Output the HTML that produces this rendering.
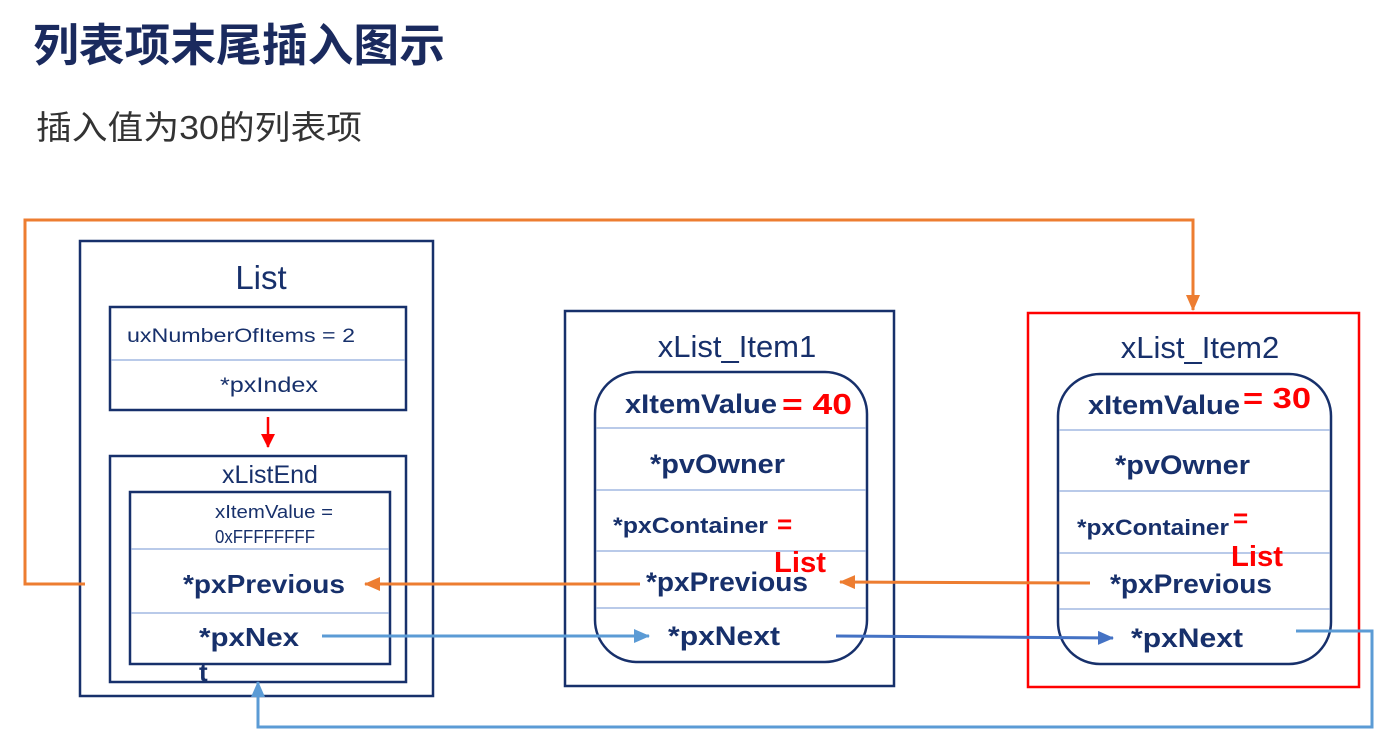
<!DOCTYPE html>
<html><head><meta charset="utf-8"><style>
html,body{margin:0;padding:0;background:#fff;}
svg{display:block;font-family:"Liberation Sans","Noto Sans CJK SC",sans-serif;}
</style></head><body>
<svg width="1384" height="739" viewBox="0 0 1384 739" xmlns="http://www.w3.org/2000/svg">
<defs>
<marker id="ao" markerWidth="16" markerHeight="14" refX="15" refY="7" orient="auto" markerUnits="userSpaceOnUse"><path d="M0,0 L16,7 L0,14 Z" fill="#ed7d31"/></marker>
<marker id="ab" markerWidth="16" markerHeight="14" refX="15" refY="7" orient="auto" markerUnits="userSpaceOnUse"><path d="M0,0 L16,7 L0,14 Z" fill="#5b9bd5"/></marker>
<marker id="ad" markerWidth="16" markerHeight="14" refX="15" refY="7" orient="auto" markerUnits="userSpaceOnUse"><path d="M0,0 L16,7 L0,14 Z" fill="#4472c4"/></marker>
<marker id="ar" markerWidth="14" markerHeight="14" refX="13" refY="7" orient="auto" markerUnits="userSpaceOnUse"><path d="M0,0 L14,7 L0,14 Z" fill="#ff0000"/></marker>
</defs>
<text x="33" y="61" font-size="45" font-weight="bold" fill="#1a2a5e" textLength="412" lengthAdjust="spacingAndGlyphs">列表项末尾插入图示</text>
<text x="36" y="139" font-size="33" fill="#333" textLength="326" lengthAdjust="spacingAndGlyphs">插入值为30的列表项</text>

<g fill="none" stroke="#17306b" stroke-width="2.5">
<rect x="80" y="241" width="353" height="455"/>
<rect x="110" y="307" width="296" height="103"/>
<rect x="110" y="456" width="296" height="226"/>
<rect x="130" y="492" width="260" height="172"/>
<rect x="565" y="311" width="329" height="375"/>
<rect x="595" y="372" width="272" height="290" rx="42"/>
<rect x="1058" y="374" width="273" height="290" rx="42"/>
</g>
<rect x="1028" y="313" width="331" height="374" fill="none" stroke="#ff0000" stroke-width="2.5"/>
<g stroke="#8faadc" stroke-width="1.2">
<line x1="111" y1="360" x2="405" y2="360"/>
<line x1="131" y1="549" x2="389" y2="549"/>
<line x1="131" y1="613" x2="389" y2="613"/>
<line x1="596" y1="428" x2="866" y2="428"/>
<line x1="596" y1="490" x2="866" y2="490"/>
<line x1="596" y1="551" x2="866" y2="551"/>
<line x1="596" y1="608" x2="866" y2="608"/>
<line x1="1059" y1="430" x2="1330" y2="430"/>
<line x1="1059" y1="491" x2="1330" y2="491"/>
<line x1="1059" y1="553" x2="1330" y2="553"/>
<line x1="1059" y1="609" x2="1330" y2="609"/>
</g>
<g fill="#17306b">
<text x="261" y="289" font-size="33" text-anchor="middle">List</text>
<text x="127" y="342" font-size="19" textLength="228" lengthAdjust="spacingAndGlyphs">uxNumberOfItems = 2</text>
<text x="220" y="392" font-size="21" textLength="98" lengthAdjust="spacingAndGlyphs">*pxIndex</text>
<text x="270" y="483" font-size="25" text-anchor="middle">xListEnd</text>
<text x="215" y="518" font-size="18" textLength="118" lengthAdjust="spacingAndGlyphs">xItemValue =</text>
<text x="215" y="543" font-size="18" textLength="100" lengthAdjust="spacingAndGlyphs">0xFFFFFFFF</text>
<g font-weight="bold" lengthAdjust="spacingAndGlyphs">
<text x="183" y="593" font-size="26" textLength="162" lengthAdjust="spacingAndGlyphs">*pxPrevious</text>
<text x="199" y="646" font-size="26" textLength="100" lengthAdjust="spacingAndGlyphs">*pxNex</text>
<text x="199" y="681" font-size="26">t</text>
</g>
<text x="737" y="357" font-size="31" text-anchor="middle">xList_Item1</text>
<text x="1200" y="358" font-size="31" text-anchor="middle">xList_Item2</text>
<g font-weight="bold" font-size="27">
<text x="625" y="413" textLength="152" lengthAdjust="spacingAndGlyphs">xItemValue</text>
<text x="650" y="473" textLength="135" lengthAdjust="spacingAndGlyphs">*pvOwner</text>
<text x="613" y="533" font-size="22" textLength="155" lengthAdjust="spacingAndGlyphs">*pxContainer</text>
<text x="646" y="591" textLength="162" lengthAdjust="spacingAndGlyphs">*pxPrevious</text>
<text x="668" y="645" textLength="112" lengthAdjust="spacingAndGlyphs">*pxNext</text>
<text x="1088" y="414" textLength="152" lengthAdjust="spacingAndGlyphs">xItemValue</text>
<text x="1115" y="474" textLength="135" lengthAdjust="spacingAndGlyphs">*pvOwner</text>
<text x="1077" y="535" font-size="22" textLength="152" lengthAdjust="spacingAndGlyphs">*pxContainer</text>
<text x="1110" y="593" textLength="162" lengthAdjust="spacingAndGlyphs">*pxPrevious</text>
<text x="1131" y="647" textLength="112" lengthAdjust="spacingAndGlyphs">*pxNext</text>
</g>
</g>
<g fill="#ff0000" font-weight="bold">
<text x="782" y="414" font-size="29" textLength="70" lengthAdjust="spacingAndGlyphs">= 40</text>
<text x="1243" y="408" font-size="29" textLength="68" lengthAdjust="spacingAndGlyphs">= 30</text>
<text x="777" y="533" font-size="26">=</text>
<text x="1233" y="527" font-size="26">=</text>
<text x="774" y="572" font-size="29" textLength="52" lengthAdjust="spacingAndGlyphs">List</text>
<text x="1231" y="566" font-size="29" textLength="52" lengthAdjust="spacingAndGlyphs">List</text>
</g>
<line x1="268" y1="417" x2="268" y2="447" stroke="#ff0000" stroke-width="2.5" marker-end="url(#ar)"/>
<g fill="none" stroke="#ed7d31" stroke-width="3">
<polyline points="85,584 25,584 25,220 1193,220 1193,310" marker-end="url(#ao)"/>
<line x1="640" y1="584" x2="365" y2="584" marker-end="url(#ao)"/>
<line x1="1090" y1="583" x2="840" y2="582" marker-end="url(#ao)"/>
</g>
<g fill="none" stroke="#5b9bd5" stroke-width="3">
<line x1="322" y1="636" x2="649" y2="636" marker-end="url(#ab)"/>
<polyline points="1296,631 1372,631 1372,727 258,727 258,682" marker-end="url(#ab)"/>
</g>
<line x1="836" y1="636" x2="1113" y2="638" stroke="#4472c4" stroke-width="3" marker-end="url(#ad)"/>
</svg>
</body></html>
